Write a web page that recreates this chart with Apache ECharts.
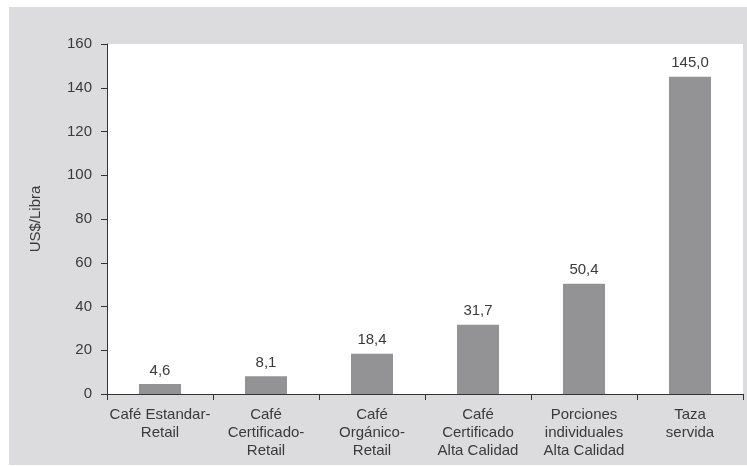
<!DOCTYPE html>
<html>
<head>
<meta charset="utf-8">
<script src="https://cdn.jsdelivr.net/npm/echarts@6/dist/echarts.min.js"></script>
<style>
  html, body { margin: 0; padding: 0; background: #ffffff; }
  #chart { width: 747px; height: 466px; }
</style>
</head>
<body>
<div id="chart"></div>
<script>
// Retail and served coffee prices, US$ per pound
const categories = [
  'Café Estandar-\nRetail',
  'Café\nCertificado-\nRetail',
  'Café\nOrgánico-\nRetail',
  'Café\nCertificado\nAlta Calidad',
  'Porciones\nindividuales\nAlta Calidad',
  'Taza\nservida'
];
const prices = [4.6, 8.1, 18.4, 31.7, 50.4, 145.0];
const yTicks = { min: 0, max: 160, interval: 20 };
const yAxisName = 'US$/Libra';

const textColor = '#3a3a3a';
const fontFamily = '"Liberation Sans", Arial, sans-serif';

const chart = echarts.init(document.getElementById('chart'), null, { renderer: 'canvas' });

chart.setOption({
  animation: false,
  backgroundColor: '#ffffff',
  textStyle: { fontFamily: fontFamily, color: textColor },
  graphic: [{
    type: 'rect',
    z: -10,
    silent: true,
    shape: { x: 9, y: 7, width: 738, height: 458 },
    style: { fill: '#dcdcde' }
  }],
  grid: {
    left: 107,
    right: 4,
    top: 44,
    bottom: 72,
    show: true,
    backgroundColor: '#ffffff',
    borderWidth: 0
  },
  xAxis: {
    type: 'category',
    data: categories,
    axisLine: { show: true, lineStyle: { color: '#333333', width: 1 } },
    axisTick: { show: true, length: 6, alignWithLabel: false, lineStyle: { color: '#333333' } },
    axisLabel: {
      interval: 0,
      margin: 12,
      fontSize: 15,
      lineHeight: 18,
      color: textColor,
      fontFamily: fontFamily
    },
    splitLine: { show: false }
  },
  yAxis: {
    type: 'value',
    min: yTicks.min,
    max: yTicks.max,
    interval: yTicks.interval,
    name: yAxisName,
    nameLocation: 'middle',
    nameRotate: 90,
    nameGap: 64,
    nameTextStyle: { fontSize: 15, color: textColor, fontFamily: fontFamily },
    axisLine: { show: true, lineStyle: { color: '#333333', width: 1 } },
    axisTick: { show: true, length: 6, lineStyle: { color: '#333333' } },
    axisLabel: { margin: 15, fontSize: 15, color: textColor, fontFamily: fontFamily },
    splitLine: { show: false }
  },
  series: [{
    type: 'bar',
    data: prices,
    barWidth: 42,
    itemStyle: { color: '#939396' },
    label: {
      show: true,
      position: 'top',
      distance: 6,
      fontSize: 15,
      color: textColor,
      fontFamily: fontFamily,
      formatter: p => p.value.toFixed(1).replace('.', ',')
    }
  }]
});
</script>
</body>
</html>
